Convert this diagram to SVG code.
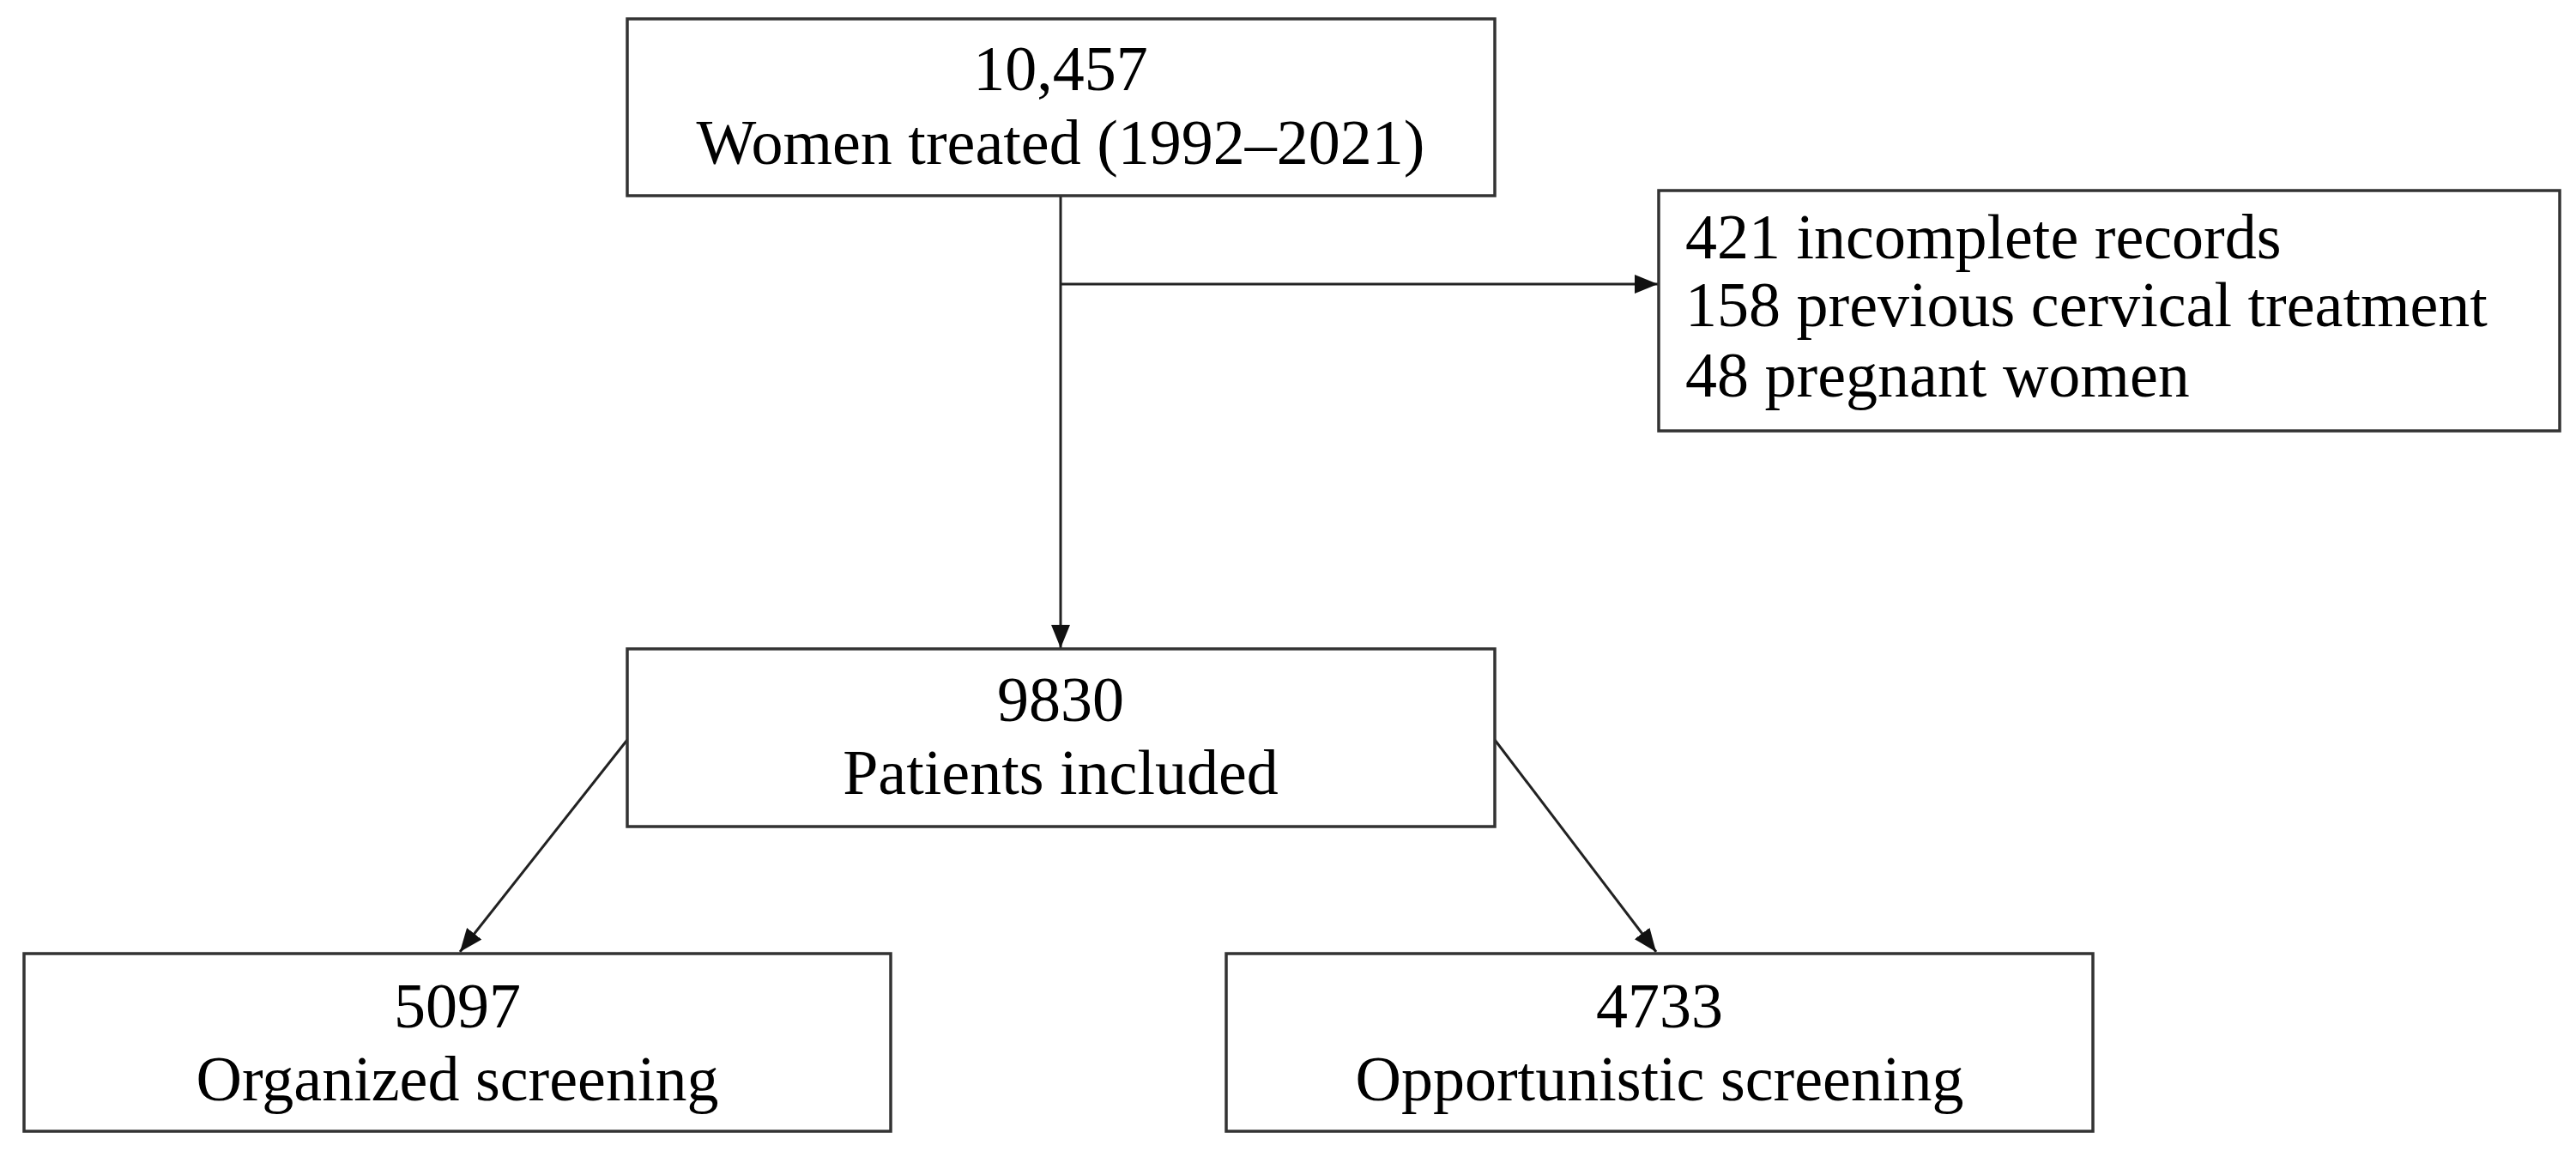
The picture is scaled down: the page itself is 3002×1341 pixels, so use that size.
<svg xmlns="http://www.w3.org/2000/svg" width="3002" height="1341" viewBox="0 0 3002 1341">
<style>
.box{fill:#fff;stroke:#333;stroke-width:3.5}
.t{font-family:"Liberation Serif","Times New Roman",serif;font-size:74px;fill:#000}
.c{text-anchor:middle}
.ln{fill:none;stroke:#222;stroke-width:3}
</style>
<defs>
<marker id="ah" viewBox="0 0 27 22" refX="27" refY="11" markerWidth="27" markerHeight="22" markerUnits="userSpaceOnUse" orient="auto">
<path d="M0,0 L27,11 L0,22 Z" fill="#111"/>
</marker>
</defs>
<rect width="3002" height="1341" fill="#fff"/>
<g id="connectors">
<line class="ln" x1="1236" y1="228" x2="1236" y2="755" marker-end="url(#ah)"/>
<line class="ln" x1="1236" y1="331" x2="1932" y2="331" marker-end="url(#ah)"/>
<line class="ln" x1="731" y1="862" x2="536" y2="1109" marker-end="url(#ah)"/>
<line class="ln" x1="1742" y1="862" x2="1930" y2="1109" marker-end="url(#ah)"/>
</g>
<g id="node-women">
<rect class="box" x="731" y="22" width="1011" height="206"/>
<text class="t c" x="1236" y="105">10,457</text>
<text class="t c" x="1236" y="191">Women treated (1992–2021)</text>
</g>
<g id="node-excluded">
<rect class="box" x="1933" y="222" width="1050" height="280"/>
<text class="t" x="1964" y="301">421 incomplete records</text>
<text class="t" x="1964" y="380">158 previous cervical treatment</text>
<text class="t" x="1964" y="462">48 pregnant women</text>
</g>
<g id="node-included">
<rect class="box" x="731" y="756" width="1011" height="207"/>
<text class="t c" x="1236" y="840">9830</text>
<text class="t c" x="1236" y="925">Patients included</text>
</g>
<g id="node-organized">
<rect class="box" x="28" y="1111" width="1010" height="207"/>
<text class="t c" x="533" y="1197">5097</text>
<text class="t c" x="533" y="1282">Organized screening</text>
</g>
<g id="node-opportunistic">
<rect class="box" x="1429" y="1111" width="1010" height="207"/>
<text class="t c" x="1934" y="1197">4733</text>
<text class="t c" x="1934" y="1282">Opportunistic screening</text>
</g>
</svg>
